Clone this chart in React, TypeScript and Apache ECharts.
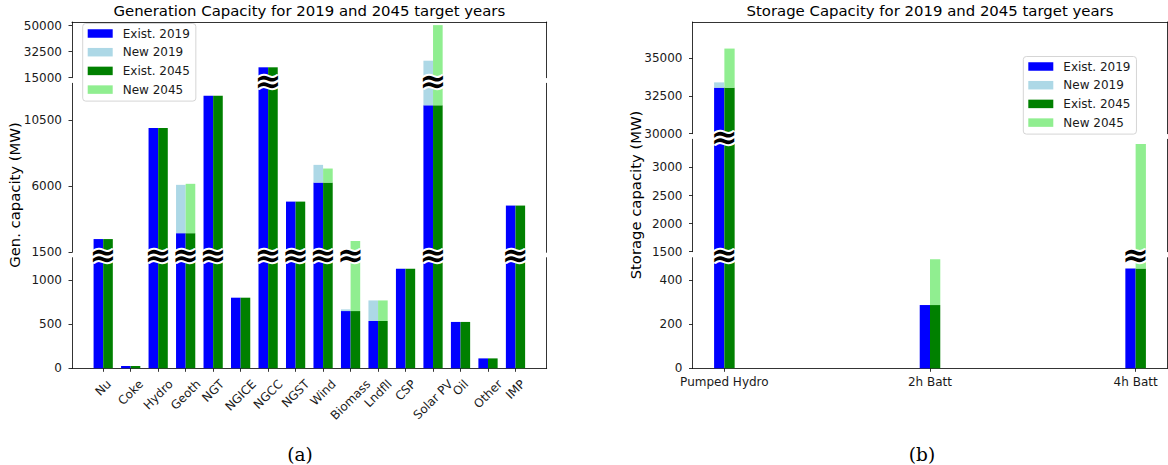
import React, { useEffect, useRef } from "react";
import * as echarts from "echarts";

// Generation capacity by technology (MW)
const genCategories = [
  "Nu", "Coke", "Hydro", "Geoth", "NGT", "NGICE", "NGCC", "NGST",
  "Wind", "Biomass", "Lndfll", "CSP", "Solar PV", "Oil", "Other", "IMP",
];
const genExist2019 = [2400, 26, 9950, 2800, 12150, 798, 22000, 4950, 6245, 647, 535, 1124, 11500, 524, 112, 4680];
const genNew2019 = [0, 0, 0, 3290, 0, 0, 0, 0, 1205, 19, 232, 0, 14950, 0, 0, 0];
const genExist2045 = [2400, 26, 9950, 2800, 12150, 798, 22000, 4950, 6245, 647, 535, 1124, 11500, 524, 112, 4680];
const genNew2045 = [0, 0, 0, 3360, 0, 0, 0, 0, 955, 1623, 232, 0, 38900, 0, 0, 0];

// Storage capacity by technology (MW)
const storageCategories = ["Pumped Hydro", "2h Batt", "4h Batt"];
const storageExist2019 = [33050, 286, 451];
const storageNew2019 = [350, 0, 0];
const storageExist2045 = [33050, 286, 451];
const storageNew2045 = [2590, 207, 2967];

// Tick values of each broken-axis segment (top, middle, bottom)
const genTicksTop = [15000, 32500, 50000];
const genTicksMid = [1500, 6000, 10500];
const genTicksBottom = [0, 500, 1000];
const storageTicksTop = [30000, 32500, 35000];
const storageTicksMid = [1500, 2000, 2500, 3000];
const storageTicksBottom = [0, 200, 400];

const seriesNames = ["Exist. 2019", "New 2019", "Exist. 2045", "New 2045"];
const seriesColors = ["#0000ff", "#add8e6", "#008000", "#90ee90"];

const FONT = "DejaVu Sans";
const TEXT = "#1a1a1a";
const SPINE = { color: "#000", width: 0.8 };
const SQ = Math.SQRT1_2;

type Panel = { top: number; height: number; min: number; max: number; ticks: number[] };
type Stack = { exist: number[]; added: number[] };
type ChartSpec = {
  left: number;
  width: number;
  xMin: number;
  xMax: number;
  barWidth: number;
  panels: Panel[];
  categories: string[];
  stacks: Stack[];
  rotateLabels: boolean;
};

const genSpec: ChartSpec = {
  left: 72,
  width: 474.7,
  xMin: -1.135,
  xMax: 16.135,
  barWidth: 0.35,
  panels: [
    { top: 22, height: 55.7, min: 15000, max: 52500, ticks: genTicksTop },
    { top: 83.3, height: 169, min: 1500, max: 13000, ticks: genTicksMid },
    { top: 257.7, height: 110.6, min: 0, max: 1250, ticks: genTicksBottom },
  ],
  categories: genCategories,
  stacks: [
    { exist: genExist2019, added: genNew2019 },
    { exist: genExist2045, added: genNew2045 },
  ],
  rotateLabels: true,
};

const storageSpec: ChartSpec = {
  left: 692.5,
  width: 475,
  xMin: -0.155,
  xMax: 2.155,
  barWidth: 0.05,
  panels: [
    { top: 22, height: 111.7, min: 30000, max: 37400, ticks: storageTicksTop },
    { top: 139.3, height: 112.4, min: 1500, max: 3500, ticks: storageTicksMid },
    { top: 257.7, height: 110.6, min: 0, max: 500, ticks: storageTicksBottom },
  ],
  categories: storageCategories,
  stacks: [
    { exist: storageExist2019, added: storageNew2019 },
    { exist: storageExist2045, added: storageNew2045 },
  ],
  rotateLabels: false,
};

let measureCtx: CanvasRenderingContext2D | null = null;
function textWidth(text: string, font: string): number {
  if (!measureCtx) measureCtx = document.createElement("canvas").getContext("2d");
  if (!measureCtx) return text.length * 7;
  measureCtx.font = font;
  return measureCtx.measureText(text).width;
}

function barSeries(
  name: string,
  color: string,
  gridIdx: number,
  yIdx: number,
  rows: number[][],
  side: number,
  w: number
) {
  return {
    type: "custom",
    name,
    coordinateSystem: "cartesian2d",
    xAxisIndex: gridIdx,
    yAxisIndex: yIdx,
    silent: true,
    itemStyle: { color },
    encode: { x: 0, y: [1, 2] },
    data: rows,
    renderItem: (params: any, api: any) => {
      const x = api.value(0);
      const lo = api.value(1);
      const hi = api.value(2);
      if (!(hi > lo)) return null;
      const a = api.coord([side < 0 ? x - w : x, hi]);
      const b = api.coord([side < 0 ? x : x + w, lo]);
      const cs = params.coordSys;
      const shape = echarts.graphic.clipRectByRect(
        { x: a[0], y: a[1], width: b[0] - a[0], height: b[1] - a[1] },
        { x: cs.x, y: cs.y, width: cs.width, height: cs.height }
      );
      return shape ? { type: "rect", shape, style: { fill: color } } : null;
    },
  };
}

function buildOption() {
  const grid: any[] = [];
  const xAxis: any[] = [];
  const yAxis: any[] = [];
  const series: any[] = [];

  [genSpec, storageSpec].forEach((spec) => {
    const totals = spec.categories.map((_, i) =>
      Math.max(...spec.stacks.map((s) => s.exist[i] + s.added[i]))
    );
    const catIdx = spec.categories.map((_, i) => i);
    const last = spec.panels.length - 1;

    spec.panels.forEach((p, k) => {
      const g = grid.length;
      const isTop = k === 0;
      const isBottom = k === last;
      grid.push({ left: spec.left, top: p.top, width: spec.width, height: p.height });

      xAxis.push({
        gridIndex: g,
        type: "value",
        min: spec.xMin,
        max: spec.xMax,
        show: isTop || isBottom,
        position: isTop ? "top" : "bottom",
        axisLine: { show: true, onZero: false, lineStyle: SPINE },
        axisTick: isBottom
          ? { show: true, length: 3.5, customValues: catIdx, lineStyle: SPINE }
          : { show: false },
        axisLabel:
          isBottom && !spec.rotateLabels
            ? {
                show: true,
                customValues: catIdx,
                formatter: (v: number) => spec.categories[Math.round(v)] ?? "",
                margin: 7.5,
                fontSize: 12,
                color: TEXT,
                fontFamily: FONT,
              }
            : { show: false },
        splitLine: { show: false },
      });

      const yIdx = yAxis.length;
      yAxis.push({
        gridIndex: g,
        type: "value",
        min: p.min,
        max: p.max,
        position: "left",
        axisLine: { show: true, onZero: false, lineStyle: SPINE },
        axisTick: { show: true, length: 3.5, customValues: p.ticks, lineStyle: SPINE },
        axisLabel: {
          show: true,
          customValues: p.ticks,
          formatter: (v: number) => String(v),
          margin: 10,
          fontSize: 12,
          color: TEXT,
          fontFamily: FONT,
        },
        splitLine: { show: false },
      });
      yAxis.push({
        gridIndex: g,
        type: "value",
        min: p.min,
        max: p.max,
        position: "right",
        axisLine: { show: true, onZero: false, lineStyle: SPINE },
        axisTick: { show: false },
        axisLabel: { show: false },
        splitLine: { show: false },
      });

      // stacked bars: 2019 to the left of each category, 2045 to the right
      spec.stacks.forEach((s, si) => {
        const side = si === 0 ? -1 : 1;
        const existRows = catIdx.map((i) => [i, 0, s.exist[i]]);
        const newRows = catIdx.map((i) => [i, s.exist[i], s.exist[i] + s.added[i]]);
        series.push(
          barSeries(seriesNames[si * 2], seriesColors[si * 2], g, yIdx, existRows, side, spec.barWidth)
        );
        series.push(
          barSeries(seriesNames[si * 2 + 1], seriesColors[si * 2 + 1], g, yIdx, newRows, side, spec.barWidth)
        );
      });

      // break markers on bars that continue into the segment above
      if (!isBottom) {
        const lower = spec.panels[k + 1];
        const gap = lower.top - (p.top + p.height);
        const broken = catIdx.filter((i) => totals[i] > lower.max);
        series.push({
          type: "custom",
          coordinateSystem: "cartesian2d",
          xAxisIndex: g,
          yAxisIndex: yIdx,
          silent: true,
          clip: false,
          z: 5,
          encode: { x: 0, y: 1 },
          data: broken.map((i) => [i, p.min]),
          renderItem: (_params: any, api: any) => {
            const pt = api.coord([api.value(0), api.value(1)]);
            const cy = pt[1] + gap / 2;
            const base = {
              text: "≈",
              fontSize: 32,
              fontWeight: "bold",
              fontFamily: FONT,
              align: "center",
              verticalAlign: "middle",
              textAlign: "center",
              textVerticalAlign: "middle",
            };
            return {
              type: "group",
              children: [
                { type: "text", x: pt[0], y: cy, style: { ...base, fill: "#fff", stroke: "#fff", lineWidth: 4 } },
                { type: "text", x: pt[0], y: cy, style: { ...base, fill: "#000" } },
              ],
            };
          },
        });
      }

      // rotated category labels, centred under each tick
      if (isBottom && spec.rotateLabels) {
        const font = `12px "${FONT}"`;
        series.push({
          type: "custom",
          coordinateSystem: "cartesian2d",
          xAxisIndex: g,
          yAxisIndex: yIdx,
          silent: true,
          clip: false,
          encode: { x: 0, y: 1 },
          data: catIdx.map((i) => [i, p.min]),
          renderItem: (_params: any, api: any) => {
            const i = api.value(0);
            const pt = api.coord([i, api.value(1)]);
            const text = spec.categories[i];
            const w = textWidth(text, font);
            return {
              type: "text",
              x: pt[0] + (w * SQ) / 2,
              y: pt[1] + 8.8 + (14 * SQ) / 2,
              rotation: Math.PI / 4,
              style: {
                text,
                fontSize: 12,
                fontFamily: FONT,
                fill: TEXT,
                align: "right",
                verticalAlign: "middle",
                textAlign: "right",
                textVerticalAlign: "middle",
              },
            };
          },
        });
      }
    });
  });

  const legendBase = {
    orient: "vertical",
    data: seriesNames,
    icon: "rect",
    itemWidth: 25,
    itemHeight: 8.5,
    itemGap: 4.7,
    padding: [3, 6, 4.5, 5],
    backgroundColor: "rgba(255,255,255,0.8)",
    borderColor: "#d5d5d5",
    borderWidth: 1,
    borderRadius: 3,
    selectedMode: false,
    textStyle: { fontSize: 12, color: TEXT, fontFamily: FONT, lineHeight: 14, padding: [0, 0, 0, 5] },
  };

  const textStyle = (extra: any) => ({
    fill: "#000",
    fontFamily: FONT,
    align: "center",
    verticalAlign: "middle",
    textAlign: "center",
    textVerticalAlign: "middle",
    ...extra,
  });

  return {
    animation: false,
    backgroundColor: "#fff",
    textStyle: { fontFamily: FONT },
    grid,
    xAxis,
    yAxis,
    series,
    legend: [
      { ...legendBase, left: 82.7, top: 23.5 },
      { ...legendBase, left: 1023.3, top: 56.5 },
    ],
    graphic: [
      {
        type: "text",
        x: genSpec.left + genSpec.width / 2,
        y: 10.5,
        style: textStyle({ text: "Generation Capacity for 2019 and 2045 target years", fontSize: 14.9 }),
      },
      {
        type: "text",
        x: storageSpec.left + storageSpec.width / 2,
        y: 10.5,
        style: textStyle({ text: "Storage Capacity for 2019 and 2045 target years", fontSize: 14.9 }),
      },
      {
        type: "text",
        x: 14.5,
        y: 195,
        rotation: Math.PI / 2,
        style: textStyle({ text: "Gen. capacity (MW)", fontSize: 14.8 }),
      },
      {
        type: "text",
        x: 635.5,
        y: 195,
        rotation: Math.PI / 2,
        style: textStyle({ text: "Storage capacity (MW)", fontSize: 14.8 }),
      },
      {
        type: "text",
        x: 300,
        y: 454,
        style: textStyle({ text: "(a)", fontSize: 18.5, fontFamily: "DejaVu Serif" }),
      },
      {
        type: "text",
        x: 922,
        y: 454,
        style: textStyle({ text: "(b)", fontSize: 18.5, fontFamily: "DejaVu Serif" }),
      },
    ],
  };
}

export default function App() {
  const ref = useRef<HTMLDivElement>(null);
  useEffect(() => {
    if (!ref.current) return;
    const chart = echarts.init(ref.current, undefined, { renderer: "svg" });
    chart.setOption(buildOption() as any);
    return () => chart.dispose();
  }, []);
  return (
    <div
      ref={ref}
      style={{ position: "absolute", left: 0, top: 0, width: 1168, height: 465 }}
    />
  );
}
